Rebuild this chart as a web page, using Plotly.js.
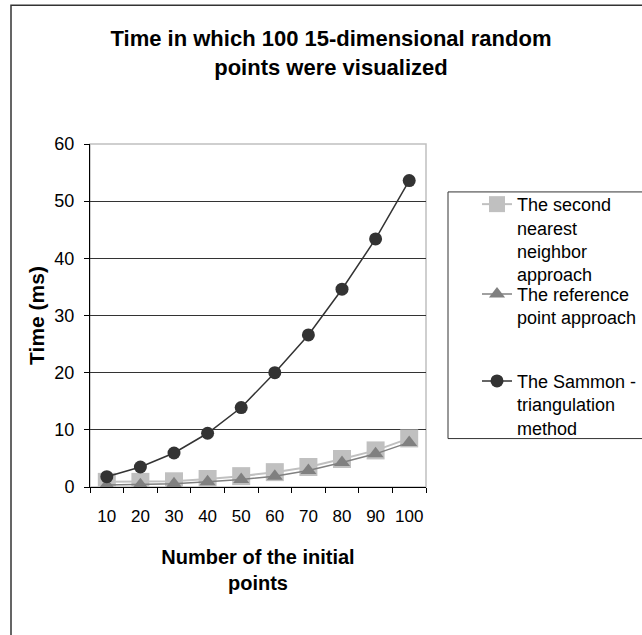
<!DOCTYPE html>
<html>
<head>
<meta charset="utf-8">
<script src="https://cdn.plot.ly/plotly-3.0.1.min.js"></script>
<style>html,body{margin:0;padding:0;background:#fff;}#chart{width:642px;height:635px;}</style>
</head>
<body>
<div id="chart"></div>
<script>
// ---- data ----
var categories = ['10','20','30','40','50','60','70','80','90','100'];
var secondNearest = [0.9, 0.9, 1.0, 1.4, 1.9, 2.6, 3.5, 4.9, 6.4, 8.5];
var referencePoint = [0.35, 0.4, 0.55, 0.9, 1.3, 1.9, 2.9, 4.3, 5.8, 7.8];
var sammon = [1.8, 3.5, 5.95, 9.4, 13.9, 20.0, 26.6, 34.6, 43.4, 53.6];
var seriesNames = [
  'The second<br>nearest<br>neighbor<br>approach',
  'The reference<br>point approach',
  'The Sammon -<br>triangulation<br>method'
];
var yTicks = [0, 10, 20, 30, 40, 50, 60];

var FONT = 'Liberation Sans, Arial, sans-serif';

// plot area in pixels: left 90, right 426, top 144, bottom 487.5
var L = 90, R = 426, T = 144, B = 487.5, W = 642, H = 635;
function px(x){ return (x - L) / (R - L); }
function py(y){ return (B - y) / (B - T); }

var traces = [
  {x: categories, y: secondNearest, name: seriesNames[0], type: 'scatter', mode: 'lines+markers',
   line: {color: '#c0c0c0', width: 2}, marker: {symbol: 'square', size: 18, color: '#c0c0c0'},
   legend: 'legend'},
  {x: categories, y: referencePoint, name: seriesNames[1], type: 'scatter', mode: 'lines+markers',
   line: {color: '#808080', width: 1.5}, marker: {symbol: 'triangle-up', size: 14, color: '#808080'},
   legend: 'legend2'},
  {x: categories, y: sammon, name: seriesNames[2], type: 'scatter', mode: 'lines+markers',
   line: {color: '#333333', width: 1.5}, marker: {symbol: 'circle', size: 13, color: '#333333'},
   legend: 'legend3'}
];

function legendAt(ytop){
  return {x: px(477), y: py(ytop), xanchor: 'left', yanchor: 'top', valign: 'top',
    bgcolor: 'rgba(0,0,0,0)', borderwidth: 0, font: {family: FONT, size: 18, color: '#000'}};
}

var layout = {
  width: W, height: H,
  margin: {l: L, r: W - R, t: T, b: H - B, pad: 0, autoexpand: false},
  paper_bgcolor: '#fff', plot_bgcolor: '#fff',
  font: {family: FONT, color: '#000'},
  title: {
    text: '<b>Time in which 100 15-dimensional random<br>points were visualized</b>',
    font: {family: FONT, size: 22, color: '#000'},
    xref: 'container', x: 331 / W, xanchor: 'center',
    yref: 'container', y: 1 - 46 / H, yanchor: 'middle'
  },
  showlegend: true,
  legend: legendAt(186),
  legend2: legendAt(276),
  legend3: legendAt(363),
  xaxis: {
    type: 'category', categoryorder: 'array', categoryarray: categories,
    range: [-0.5, categories.length - 0.5], autorange: false,
    showgrid: false, zeroline: false,
    showline: true, linecolor: '#000', linewidth: 1,
    ticks: 'outside', tickson: 'boundaries', ticklen: 5, tickcolor: '#000', tickwidth: 1,
    tickangle: 0,
    tickfont: {family: FONT, size: 17, color: '#000'},
    ticklabelstandoff: 14,
    title: {text: '<b>Number of the initial<br>points</b>', font: {family: FONT, size: 20, color: '#000'}, standoff: 24},
    automargin: false, fixedrange: true
  },
  yaxis: {
    range: [0, 60], autorange: false, tickvals: yTicks, ticktext: yTicks.map(String),
    showgrid: true, gridcolor: '#333333', gridwidth: 1, zeroline: false,
    showline: true, linecolor: '#000', linewidth: 1,
    ticks: 'outside', ticklen: 5, tickcolor: '#000', tickwidth: 1,
    tickfont: {family: FONT, size: 18, color: '#000'},
    ticklabelstandoff: 6,
    title: {text: '<b>Time (ms)</b>', font: {family: FONT, size: 21, color: '#000'}, standoff: 4},
    automargin: false, fixedrange: true
  },
  shapes: [
    {type: 'rect', xref: 'paper', yref: 'paper', x0: 0, x1: 1, y0: 0, y1: 1,
     line: {color: '#c0c0c0', width: 1.5}, layer: 'between'},
    {type: 'rect', xref: 'paper', yref: 'paper', x0: px(11), x1: px(720), y0: py(720), y1: py(5),
     line: {color: '#333333', width: 1.5}, layer: 'below'},
    {type: 'rect', xref: 'paper', yref: 'paper', x0: px(448), x1: px(720), y0: py(439), y1: py(192),
     line: {color: '#333333', width: 1}, layer: 'above'}
  ]
};

Plotly.newPlot('chart', traces, layout, {displayModeBar: false, staticPlot: true});
</script>
</body>
</html>
